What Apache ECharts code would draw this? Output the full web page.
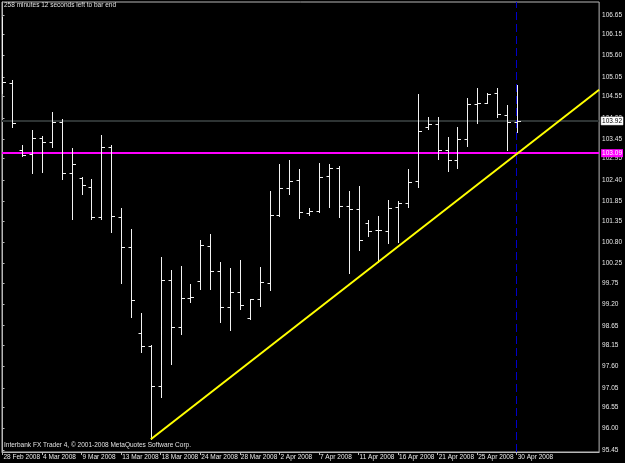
<!DOCTYPE html>
<html><head><meta charset="utf-8">
<script src="https://cdn.jsdelivr.net/npm/echarts@6/dist/echarts.min.js"></script>
<style>html,body{margin:0;padding:0;background:#000;}#c{width:625px;height:463px;}</style>
</head><body><div id="c"></div>
<script>
const dates = ['28 Feb 2008','29 Feb 2008','2 Mar 2008','3 Mar 2008','4 Mar 2008','5 Mar 2008','6 Mar 2008','7 Mar 2008',
 '9 Mar 2008','10 Mar 2008','11 Mar 2008','12 Mar 2008','13 Mar 2008','14 Mar 2008','16 Mar 2008','17 Mar 2008',
 '18 Mar 2008','19 Mar 2008','20 Mar 2008','23 Mar 2008','24 Mar 2008','25 Mar 2008','26 Mar 2008','27 Mar 2008',
 '28 Mar 2008','30 Mar 2008','31 Mar 2008','1 Apr 2008','2 Apr 2008','3 Apr 2008','4 Apr 2008','6 Apr 2008',
 '7 Apr 2008','8 Apr 2008','9 Apr 2008','10 Apr 2008','11 Apr 2008','13 Apr 2008','14 Apr 2008','15 Apr 2008',
 '16 Apr 2008','17 Apr 2008','18 Apr 2008','20 Apr 2008','21 Apr 2008','22 Apr 2008','23 Apr 2008','24 Apr 2008',
 '25 Apr 2008','27 Apr 2008','28 Apr 2008','29 Apr 2008','30 Apr 2008'];
const opens  = [105.88,104.90,103.17,103.08,103.48,103.38,103.90,102.58,102.45,102.22,101.45,103.25,101.45,100.68,98.46,98.13,
 97.10,99.83,98.62,99.36,99.80,100.70,100.06,99.13,99.52,98.85,99.34,99.75,101.50,102.20,102.40,101.55,
 101.60,102.51,102.71,101.73,101.66,101.30,101.11,101.09,101.71,101.81,102.38,103.77,103.84,103.17,102.92,103.46,
 104.36,104.38,104.64,104.08,103.90];
const highs  = [106.60,104.98,103.30,103.69,103.53,104.15,103.97,103.23,102.48,102.43,103.56,103.30,101.68,101.14,98.98,98.15,
 100.42,100.08,100.19,99.72,100.86,101.01,100.29,100.14,100.34,99.34,100.16,102.12,102.81,102.92,102.69,101.68,
 102.84,102.81,102.76,102.12,102.25,101.37,101.47,101.89,101.86,102.69,104.62,104.02,104.02,103.51,103.77,104.51,
 104.77,104.64,104.77,104.33,104.85];
const lows   = [104.64,103.77,103.02,102.58,102.61,103.25,102.43,101.40,102.04,101.40,101.40,101.06,99.75,98.87,97.97,95.73,
 96.81,97.66,98.44,99.26,99.60,99.60,98.75,98.54,99.08,98.82,99.16,99.57,101.47,102.04,101.42,101.50,
 101.58,101.71,101.45,100.01,100.60,100.96,100.29,100.78,100.81,101.71,102.22,103.72,102.94,102.63,102.71,103.28,
 103.87,104.38,104.02,103.17,103.64];
const closes = [104.93,103.87,103.05,103.48,103.38,103.90,102.58,102.81,102.27,101.45,103.25,101.47,100.68,99.31,98.13,97.10,
 99.83,98.62,99.36,99.40,100.73,100.06,99.13,99.52,99.18,99.34,99.78,101.50,102.20,102.38,101.58,101.60,
 102.48,102.71,101.73,101.66,100.86,101.09,101.11,101.68,101.81,102.35,103.66,103.84,103.17,102.92,103.46,104.36,
 104.38,104.62,104.10,103.90,103.92];
const priceTicks = [106.65,106.15,105.60,105.05,104.55,104.00,103.45,102.95,102.40,101.85,101.35,100.80,100.25,
 99.75,99.20,98.65,98.15,97.60,97.05,96.55,96.00,95.45];
const dateTicks = [0,4,8,12,16,20,24,28,32,36,40,44,48,52];
const bidPrice = 103.92;
const levelPrice = 103.09;
const trendStart = ['17 Mar 2008', 95.73];
const trendThrough = ['30 Apr 2008', 103.07];
const cursorDate = '30 Apr 2008';
const infoTop = '258 minutes 12 seconds left to bar end';
const infoBottom = 'Interbank FX Trader 4, \u00a9 2001-2008 MetaQuotes Software Corp.';

const X_MIN = -0.05, X_MAX = 60.33, Y_MIN = 95.40, Y_MAX = 106.98;
const ohlc = dates.map((d, i) => [i, opens[i], highs[i], lows[i], closes[i]]);
const t0 = dates.indexOf(trendStart[0]), t1 = dates.indexOf(trendThrough[0]);
const slope = (trendThrough[1] - trendStart[1]) / (t1 - t0);
const trendData = [[t0, trendStart[1]], [X_MAX, trendStart[1] + slope * (X_MAX - t0)]];
const FONT = 'Liberation Sans';

const chart = echarts.init(document.getElementById('c'), null, {renderer: 'canvas'});
chart.setOption({
  backgroundColor: '#000000',
  animation: false,
  grid: {left: 2, right: 24, top: 2, bottom: 11, show: true, borderColor: '#b8b8b8', borderWidth: 1, backgroundColor: '#000'},
  xAxis: {
    type: 'value', min: X_MIN, max: X_MAX,
    splitLine: {show: false},
    axisLine: {show: true, onZero: false, lineStyle: {color: '#b8b8b8'}},
    axisTick: {show: true, length: 3, lineStyle: {color: '#b8b8b8'}, customValues: dateTicks},
    axisLabel: {customValues: dateTicks, formatter: v => dates[Math.round(v)] || '', color: '#e8e8e8',
      fontFamily: FONT, fontSize: 6.5, align: 'left', margin: 2, padding: [0, 0, 0, 1]}
  },
  yAxis: {
    type: 'value', position: 'right', min: Y_MIN, max: Y_MAX, scale: true,
    splitLine: {show: false},
    axisLine: {show: true, lineStyle: {color: '#b8b8b8'}},
    axisTick: {show: true, length: 2, lineStyle: {color: '#b8b8b8'}, customValues: priceTicks},
    axisLabel: {customValues: priceTicks, formatter: v => v.toFixed(2), color: '#e8e8e8',
      fontFamily: FONT, fontSize: 6.5, margin: 3}
  },
  series: [
    {
      type: 'custom', clip: true, z: 5,
      data: ohlc,
      encode: {x: 0, y: [1, 2, 3, 4]},
      renderItem: function (params, api) {
        const i = api.value(0);
        const pH = api.coord([i, api.value(2)]);
        const pL = api.coord([i, api.value(3)]);
        const pO = api.coord([i, api.value(1)]);
        const pC = api.coord([i, api.value(4)]);
        const X = Math.round(pH[0]) + 0.5;
        const yo = Math.round(pO[1]) + 0.5, yc = Math.round(pC[1]) + 0.5;
        const st = {stroke: '#f2f2f2', lineWidth: 1};
        return {type: 'group', children: [
          {type: 'line', shape: {x1: X, y1: Math.round(pH[1]), x2: X, y2: Math.round(pL[1]) + 1}, style: st},
          {type: 'line', shape: {x1: X - 3, y1: yo, x2: X, y2: yo}, style: st},
          {type: 'line', shape: {x1: X, y1: yc, x2: X + 3.5, y2: yc}, style: st}
        ]};
      },
      markLine: {
        silent: true, symbol: 'none', animation: false,
        emphasis: {disabled: true},
        data: [
          {yAxis: bidPrice, lineStyle: {color: '#2e3434', width: 2, type: 'solid', opacity: 1},
            label: {show: true, position: 'end', distance: 2, formatter: bidPrice.toFixed(2), color: '#000',
              backgroundColor: '#ffffff', borderColor: '#808080', borderWidth: 0.5, padding: [1, 1, 0, 1], fontFamily: FONT, fontSize: 6.5}},
          {yAxis: levelPrice, lineStyle: {color: '#ff00ff', width: 2, type: 'solid', opacity: 1},
            label: {show: true, position: 'end', distance: 2, formatter: levelPrice.toFixed(2), color: '#ffffff',
              backgroundColor: '#ff00ff', padding: [1, 1, 0, 1], fontFamily: FONT, fontSize: 6.5}},
          {xAxis: dates.indexOf(cursorDate), lineStyle: {color: '#0000c8', width: 1, type: [8, 4], opacity: 1}, label: {show: false}}
        ]
      }
    },
    {
      type: 'line', data: trendData, symbol: 'none', z: 6,
      lineStyle: {color: '#ffff00', width: 2}, silent: true
    }
  ],
  graphic: [
    {type: 'text', left: 4, top: 2, z: 100, style: {text: infoTop, fill: '#e0e0e0', font: '6.5px "Liberation Sans"'}},
    {type: 'text', left: 4, top: 442, z: 100, style: {text: infoBottom, fill: '#e0e0e0', font: '6.5px "Liberation Sans"'}}
  ]
});
</script></body></html>
